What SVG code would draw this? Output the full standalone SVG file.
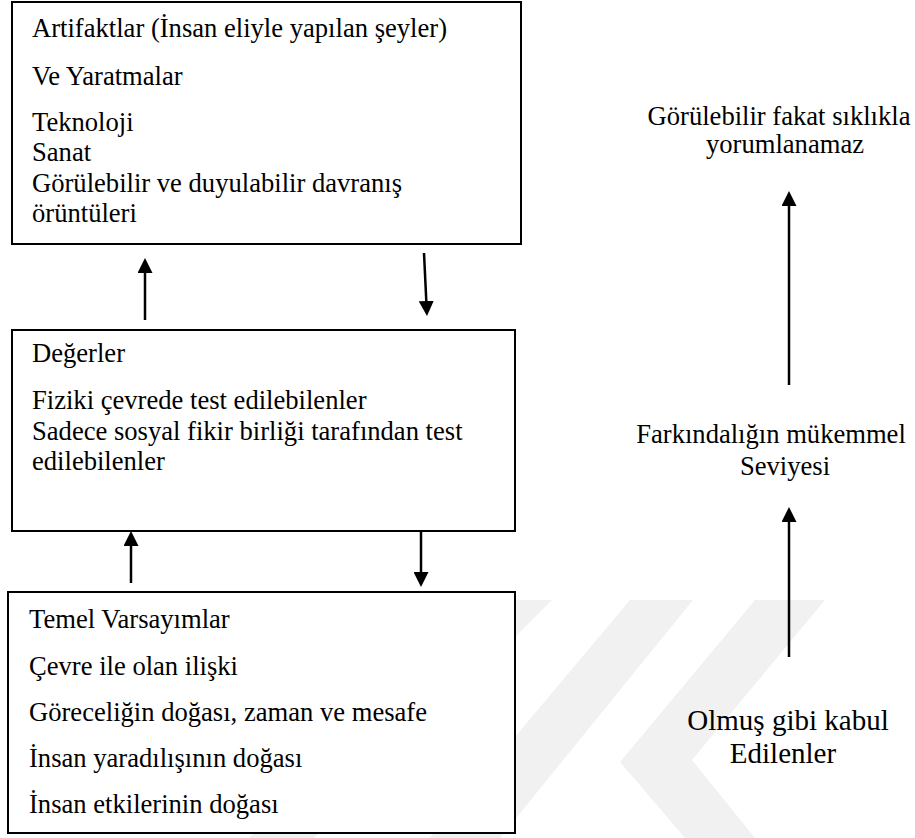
<svg xmlns="http://www.w3.org/2000/svg" width="915" height="838" viewBox="0 0 915 838">
  <style>
    .box { fill: #ffffff; stroke: #000000; stroke-width: 2; }
    text { font-family: "Liberation Serif", "Times New Roman", serif; fill: #000000; }
    .t { font-size: 26.6px; }
    .tl { font-size: 29px; }
    .c { text-anchor: middle; }
    .arr { fill: none; stroke: #000000; stroke-width: 2.5; marker-end: url(#head); }
    .wm { fill: #f1f1f1; }
  </style>
  <defs>
    <marker id="head" viewBox="0 0 15 15" refX="2" refY="7.5" markerWidth="15" markerHeight="15" markerUnits="userSpaceOnUse" orient="auto">
      <path d="M0,0 L15,7.5 L0,15 Z" fill="#000000"/>
    </marker>
  </defs>
  <rect width="915" height="838" fill="#ffffff"/>

  <g id="watermark">
    <polygon class="wm" points="487,600 552,600 314,838 249,838"/>
    <polygon class="wm" points="630,600 693,600 500,838 430,838"/>
    <polygon class="wm" points="755,600 825,600 692,760 755,838 685,838 620,762"/>
  </g>

  <g id="artifaktlar" font-family="Liberation Serif, Times New Roman, serif">
    <rect class="box" x="12" y="2" width="509" height="242"/>
    <text class="t" x="32" y="37">Artifaktlar (İnsan eliyle yapılan şeyler)</text>
    <text class="t" x="32" y="85">Ve Yaratmalar</text>
    <text class="t" x="32" y="130.5">Teknoloji</text>
    <text class="t" x="32" y="161">Sanat</text>
    <text class="t" x="32" y="191.5">Görülebilir ve duyulabilir davranış</text>
    <text class="t" x="32" y="222">örüntüleri</text>
  </g>

  <g id="degerler" font-family="Liberation Serif, Times New Roman, serif">
    <rect class="box" x="12" y="330" width="503" height="201"/>
    <text class="t" x="32" y="362">Değerler</text>
    <text class="t" x="32" y="409">Fiziki çevrede test edilebilenler</text>
    <text class="t" x="32" y="439.5">Sadece sosyal fikir birliği tarafından test</text>
    <text class="t" x="32" y="470">edilebilenler</text>
  </g>

  <g id="temel-varsayimlar" font-family="Liberation Serif, Times New Roman, serif">
    <rect class="box" x="8" y="592" width="507" height="241"/>
    <text class="t" x="29" y="628">Temel Varsayımlar</text>
    <text class="t" x="29" y="675">Çevre ile olan ilişki</text>
    <text class="t" x="29" y="721">Göreceliğin doğası, zaman ve mesafe</text>
    <text class="t" x="29" y="767">İnsan yaradılışının doğası</text>
    <text class="t" x="29" y="813">İnsan etkilerinin doğası</text>
  </g>

  <g id="gorulebilir" font-family="Liberation Serif, Times New Roman, serif">
    <text class="t c" x="779" y="125">Görülebilir fakat sıklıkla</text>
    <text class="t c" x="785" y="153">yorumlanamaz</text>
  </g>

  <g id="farkindalik" font-family="Liberation Serif, Times New Roman, serif">
    <text class="t c" x="771" y="443">Farkındalığın mükemmel</text>
    <text class="t c" x="785" y="475">Seviyesi</text>
  </g>

  <g id="olmus-gibi" font-family="Liberation Serif, Times New Roman, serif">
    <text class="tl c" x="788" y="730">Olmuş gibi kabul</text>
    <text class="tl c" x="783" y="763">Edilenler</text>
  </g>

  <g id="connectors">
    <path class="arr" d="M145,320 L145,271"/>
    <path class="arr" d="M424,253 L426.4,303"/>
    <path class="arr" d="M131,583 L131,544"/>
    <path class="arr" d="M421,531 L421,574"/>
    <path class="arr" d="M789,385 L789,204"/>
    <path class="arr" d="M789,657 L789,520"/>
  </g>
</svg>
